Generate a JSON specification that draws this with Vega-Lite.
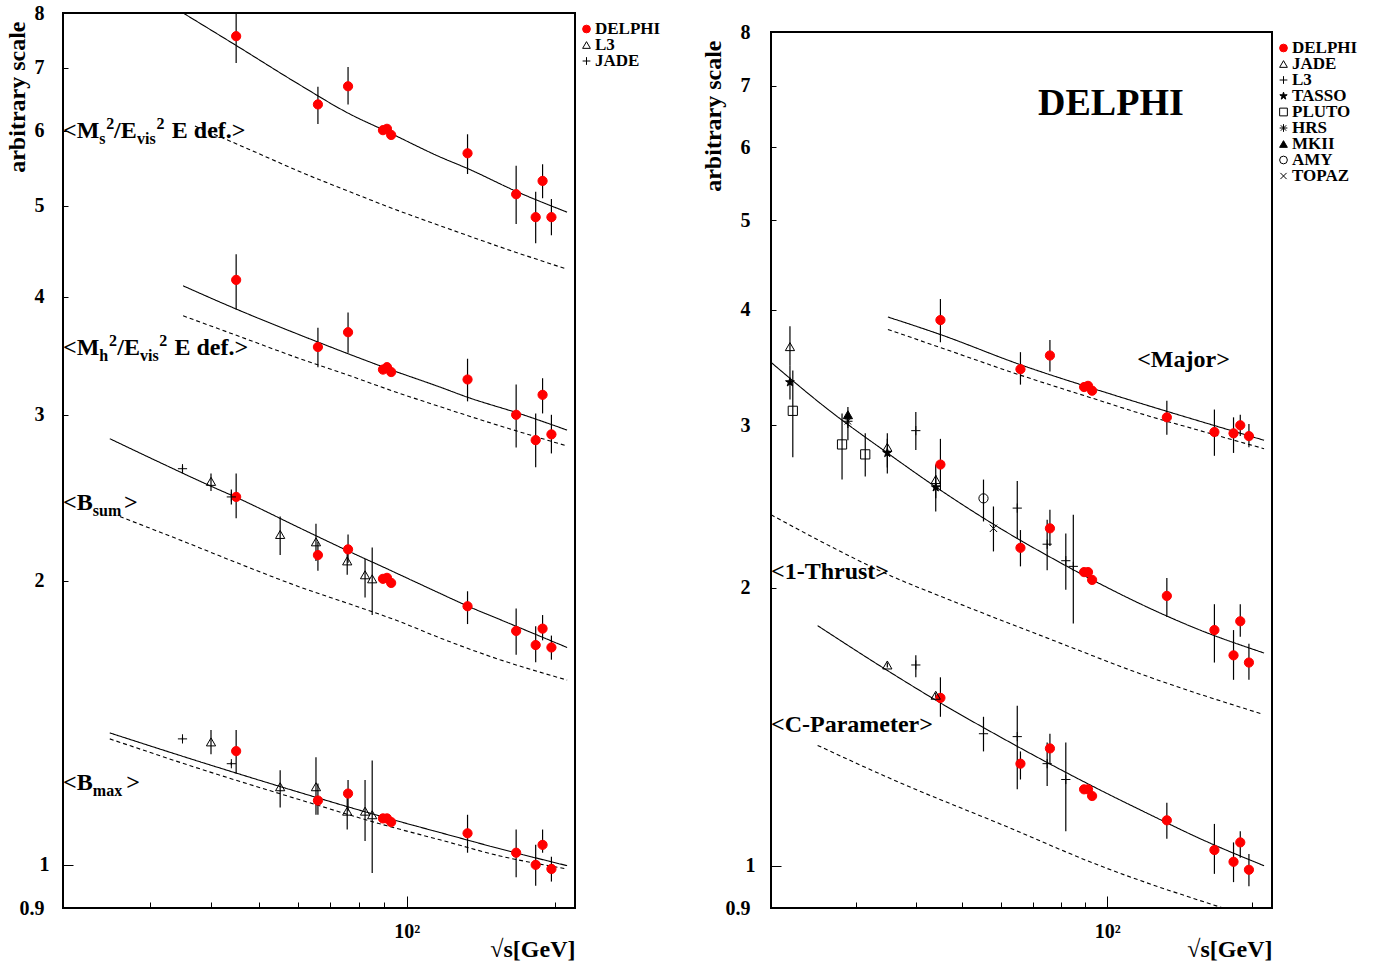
{
  "$schema": "https://vega.github.io/schema/vega-lite/v6.json",
  "background": "white",
  "padding": {"left": 3, "top": 2, "right": 0, "bottom": 0},
  "config": {
    "font": "Liberation Serif",
    "view": {"stroke": "black", "strokeWidth": 2},
    "axis": {"grid": false, "domain": false, "labelFont": "Liberation Serif", "labelFontWeight": "bold", "labelFontSize": 20, "labelColor": "black", "titleFont": "Liberation Serif", "titleFontWeight": "bold", "titleColor": "black", "tickColor": "black", "tickWidth": 1, "labelOverlap": false, "labelFlush": false},
    "legend": {"orient": "right", "offset": -5, "padding": 8, "labelFont": "Liberation Serif", "labelFontWeight": "bold", "labelFontSize": 17, "labelColor": "black", "symbolSize": 60, "symbolStrokeWidth": 1, "rowPadding": -3, "clipHeight": 16, "labelOffset": 0}
  },
  "spacing": 29,
  "resolve": {"scale": {"shape": "independent", "fill": "independent", "stroke": "independent", "strokeDash": "independent"}, "legend": {"shape": "independent", "fill": "independent", "stroke": "independent"}},
  "datasets": {
    "L_pts": [
      {"s":"Ms","exp":"DELPHI","x":45,"y":7.56,"lo":7.08,"hi":8.0},
      {"s":"Ms","exp":"DELPHI","x":66,"y":6.40,"lo":6.10,"hi":6.68},
      {"s":"Ms","exp":"DELPHI","x":76,"y":6.69,"lo":6.40,"hi":7.01},
      {"s":"Ms","exp":"DELPHI","x":89.5,"y":6.01,"lo":5.97,"hi":6.05},
      {"s":"Ms","exp":"DELPHI","x":91.2,"y":6.03,"lo":6.00,"hi":6.06},
      {"s":"Ms","exp":"DELPHI","x":93,"y":5.94,"lo":5.90,"hi":5.98},
      {"s":"Ms","exp":"DELPHI","x":133,"y":5.68,"lo":5.40,"hi":5.95},
      {"s":"Ms","exp":"DELPHI","x":167,"y":5.14,"lo":4.78,"hi":5.51},
      {"s":"Ms","exp":"DELPHI","x":183,"y":4.86,"lo":4.56,"hi":5.17},
      {"s":"Ms","exp":"DELPHI","x":189,"y":5.31,"lo":5.09,"hi":5.53},
      {"s":"Ms","exp":"DELPHI","x":197,"y":4.86,"lo":4.65,"hi":5.08},
      {"s":"Mh","exp":"DELPHI","x":45,"y":4.17,"lo":3.88,"hi":4.44},
      {"s":"Mh","exp":"DELPHI","x":66,"y":3.54,"lo":3.37,"hi":3.71},
      {"s":"Mh","exp":"DELPHI","x":76,"y":3.67,"lo":3.49,"hi":3.85},
      {"s":"Mh","exp":"DELPHI","x":89.5,"y":3.35,"lo":3.33,"hi":3.37},
      {"s":"Mh","exp":"DELPHI","x":91.2,"y":3.37,"lo":3.35,"hi":3.39},
      {"s":"Mh","exp":"DELPHI","x":93,"y":3.33,"lo":3.31,"hi":3.35},
      {"s":"Mh","exp":"DELPHI","x":133,"y":3.27,"lo":3.10,"hi":3.44},
      {"s":"Mh","exp":"DELPHI","x":167,"y":3.00,"lo":2.77,"hi":3.23},
      {"s":"Mh","exp":"DELPHI","x":183,"y":2.82,"lo":2.64,"hi":3.01},
      {"s":"Mh","exp":"DELPHI","x":189,"y":3.15,"lo":3.01,"hi":3.28},
      {"s":"Mh","exp":"DELPHI","x":197,"y":2.86,"lo":2.73,"hi":3.00},
      {"s":"Bsum","exp":"DELPHI","x":45,"y":2.455,"lo":2.33,"hi":2.60},
      {"s":"Bsum","exp":"DELPHI","x":66,"y":2.13,"lo":2.05,"hi":2.20},
      {"s":"Bsum","exp":"DELPHI","x":76,"y":2.16,"lo":2.09,"hi":2.24},
      {"s":"Bsum","exp":"DELPHI","x":89.5,"y":2.01,"lo":2.0,"hi":2.02},
      {"s":"Bsum","exp":"DELPHI","x":91.2,"y":2.015,"lo":2.005,"hi":2.025},
      {"s":"Bsum","exp":"DELPHI","x":93,"y":1.99,"lo":1.98,"hi":2.0},
      {"s":"Bsum","exp":"DELPHI","x":133,"y":1.88,"lo":1.80,"hi":1.95},
      {"s":"Bsum","exp":"DELPHI","x":167,"y":1.77,"lo":1.67,"hi":1.87},
      {"s":"Bsum","exp":"DELPHI","x":183,"y":1.71,"lo":1.64,"hi":1.79},
      {"s":"Bsum","exp":"DELPHI","x":189,"y":1.78,"lo":1.73,"hi":1.84},
      {"s":"Bsum","exp":"DELPHI","x":197,"y":1.70,"lo":1.65,"hi":1.75},
      {"s":"Bsum","exp":"L3","x":40,"y":2.55,"lo":2.49,"hi":2.60},
      {"s":"Bsum","exp":"L3","x":55.3,"y":2.24,"lo":2.13,"hi":2.34},
      {"s":"Bsum","exp":"L3","x":65.4,"y":2.20,"lo":2.10,"hi":2.30},
      {"s":"Bsum","exp":"L3","x":75.7,"y":2.10,"lo":2.03,"hi":2.16},
      {"s":"Bsum","exp":"L3","x":82.3,"y":2.03,"lo":1.92,"hi":2.11},
      {"s":"Bsum","exp":"L3","x":85.1,"y":2.01,"lo":1.84,"hi":2.17},
      {"s":"Bsum","exp":"JADE","x":35,"y":2.63,"lo":2.61,"hi":2.65},
      {"s":"Bsum","exp":"JADE","x":44,"y":2.455,"lo":2.41,"hi":2.50},
      {"s":"Bmax","exp":"DELPHI","x":45,"y":1.32,"lo":1.25,"hi":1.39},
      {"s":"Bmax","exp":"DELPHI","x":66,"y":1.17,"lo":1.13,"hi":1.22},
      {"s":"Bmax","exp":"DELPHI","x":76,"y":1.19,"lo":1.14,"hi":1.23},
      {"s":"Bmax","exp":"DELPHI","x":89.5,"y":1.12,"lo":1.115,"hi":1.125},
      {"s":"Bmax","exp":"DELPHI","x":91.2,"y":1.12,"lo":1.115,"hi":1.125},
      {"s":"Bmax","exp":"DELPHI","x":93,"y":1.11,"lo":1.105,"hi":1.115},
      {"s":"Bmax","exp":"DELPHI","x":133,"y":1.08,"lo":1.03,"hi":1.13},
      {"s":"Bmax","exp":"DELPHI","x":167,"y":1.03,"lo":0.97,"hi":1.09},
      {"s":"Bmax","exp":"DELPHI","x":183,"y":1.00,"lo":0.95,"hi":1.05},
      {"s":"Bmax","exp":"DELPHI","x":189,"y":1.05,"lo":1.03,"hi":1.09},
      {"s":"Bmax","exp":"DELPHI","x":197,"y":0.99,"lo":0.96,"hi":1.02},
      {"s":"Bmax","exp":"L3","x":40,"y":1.35,"lo":1.31,"hi":1.39},
      {"s":"Bmax","exp":"L3","x":55.3,"y":1.21,"lo":1.15,"hi":1.26},
      {"s":"Bmax","exp":"L3","x":65.4,"y":1.21,"lo":1.13,"hi":1.30},
      {"s":"Bmax","exp":"L3","x":75.7,"y":1.14,"lo":1.09,"hi":1.18},
      {"s":"Bmax","exp":"L3","x":82.3,"y":1.14,"lo":1.06,"hi":1.23},
      {"s":"Bmax","exp":"L3","x":85.1,"y":1.13,"lo":0.98,"hi":1.29},
      {"s":"Bmax","exp":"JADE","x":35,"y":1.36,"lo":1.355,"hi":1.365},
      {"s":"Bmax","exp":"JADE","x":44,"y":1.28,"lo":1.275,"hi":1.285}
    ],
    "L_lines": [
      {"s":"Ms","k":"fit","x":35.1,"y":8.0},{"s":"Ms","k":"fit","x":45.2,"y":7.38},{"s":"Ms","k":"fit","x":60.7,"y":6.71},{"s":"Ms","k":"fit","x":76.7,"y":6.25},{"s":"Ms","k":"fit","x":91.2,"y":5.99},{"s":"Ms","k":"fit","x":116.9,"y":5.63},{"s":"Ms","k":"fit","x":133.3,"y":5.47},{"s":"Ms","k":"fit","x":169.3,"y":5.16},{"s":"Ms","k":"fit","x":212,"y":4.92},
      {"s":"Msp","k":"pert","x":37.1,"y":6.07},{"s":"Msp","k":"pert","x":48.0,"y":5.73},{"s":"Msp","k":"pert","x":60.7,"y":5.43},{"s":"Msp","k":"pert","x":76.7,"y":5.17},{"s":"Msp","k":"pert","x":97.0,"y":4.93},{"s":"Msp","k":"pert","x":116.9,"y":4.76},{"s":"Msp","k":"pert","x":154.8,"y":4.52},{"s":"Msp","k":"pert","x":212,"y":4.28},
      {"s":"Mh","k":"fit","x":35.1,"y":4.11},{"s":"Mh","k":"fit","x":45.2,"y":3.88},{"s":"Mh","k":"fit","x":60.7,"y":3.645},{"s":"Mh","k":"fit","x":76.7,"y":3.476},{"s":"Mh","k":"fit","x":91.2,"y":3.36},{"s":"Mh","k":"fit","x":116.9,"y":3.21},{"s":"Mh","k":"fit","x":133.3,"y":3.13},{"s":"Mh","k":"fit","x":169.3,"y":3.01},{"s":"Mh","k":"fit","x":212,"y":2.89},
      {"s":"Mhp","k":"pert","x":35.1,"y":3.82},{"s":"Mhp","k":"pert","x":45.2,"y":3.64},{"s":"Mhp","k":"pert","x":60.7,"y":3.44},{"s":"Mhp","k":"pert","x":76.7,"y":3.30},{"s":"Mhp","k":"pert","x":91.2,"y":3.195},{"s":"Mhp","k":"pert","x":116.9,"y":3.06},{"s":"Mhp","k":"pert","x":154.8,"y":2.92},{"s":"Mhp","k":"pert","x":212,"y":2.78},
      {"s":"Bsum","k":"fit","x":24.9,"y":2.83},{"s":"Bsum","k":"fit","x":31.5,"y":2.67},{"s":"Bsum","k":"fit","x":40.0,"y":2.52},{"s":"Bsum","k":"fit","x":45.2,"y":2.45},{"s":"Bsum","k":"fit","x":60.7,"y":2.275},{"s":"Bsum","k":"fit","x":76.7,"y":2.147},{"s":"Bsum","k":"fit","x":91.2,"y":2.06},{"s":"Bsum","k":"fit","x":116.9,"y":1.94},{"s":"Bsum","k":"fit","x":133.3,"y":1.88},{"s":"Bsum","k":"fit","x":154.8,"y":1.82},{"s":"Bsum","k":"fit","x":212,"y":1.70},
      {"s":"Bsump","k":"pert","x":26.1,"y":2.34},{"s":"Bsump","k":"pert","x":34.6,"y":2.21},{"s":"Bsump","k":"pert","x":45.2,"y":2.09},{"s":"Bsump","k":"pert","x":60.7,"y":1.97},{"s":"Bsump","k":"pert","x":76.7,"y":1.89},{"s":"Bsump","k":"pert","x":97.0,"y":1.81},{"s":"Bsump","k":"pert","x":116.9,"y":1.74},{"s":"Bsump","k":"pert","x":154.8,"y":1.65},{"s":"Bsump","k":"pert","x":212,"y":1.57},
      {"s":"Bmax","k":"fit","x":24.9,"y":1.38},{"s":"Bmax","k":"fit","x":38.0,"y":1.286},{"s":"Bmax","k":"fit","x":60.7,"y":1.193},{"s":"Bmax","k":"fit","x":91.2,"y":1.121},{"s":"Bmax","k":"fit","x":116.9,"y":1.082},{"s":"Bmax","k":"fit","x":154.8,"y":1.04},{"s":"Bmax","k":"fit","x":212,"y":0.998},
      {"s":"Bmaxp","k":"pert","x":24.9,"y":1.36},{"s":"Bmaxp","k":"pert","x":38.0,"y":1.264},{"s":"Bmaxp","k":"pert","x":60.7,"y":1.172},{"s":"Bmaxp","k":"pert","x":91.2,"y":1.10},{"s":"Bmaxp","k":"pert","x":116.9,"y":1.063},{"s":"Bmaxp","k":"pert","x":154.8,"y":1.022},{"s":"Bmaxp","k":"pert","x":212,"y":0.99}
    ],
    "L_txt": [
      {"r":"main","x":20,"y":6.0,"t":"<M"},{"r":"sub","x":23.7,"y":6.0,"t":"s"},{"r":"sup","x":24.5,"y":6.0,"t":"2"},{"r":"main","x":25.4,"y":6.0,"t":"/E"},{"r":"sub","x":28.3,"y":6.0,"t":"vis"},{"r":"sup","x":31.0,"y":6.0,"t":"2"},{"r":"main","x":33.3,"y":6.0,"t":"E def.>"},
      {"r":"main","x":20,"y":3.53,"t":"<M"},{"r":"sub","x":23.7,"y":3.53,"t":"h"},{"r":"sup","x":24.8,"y":3.53,"t":"2"},{"r":"main","x":25.8,"y":3.53,"t":"/E"},{"r":"sub","x":28.7,"y":3.53,"t":"vis"},{"r":"sup","x":31.4,"y":3.53,"t":"2"},{"r":"main","x":33.7,"y":3.53,"t":"E def.>"},
      {"r":"main","x":20,"y":2.42,"t":"<B"},{"r":"sub","x":23.0,"y":2.42,"t":"sum"},{"r":"main","x":26.6,"y":2.42,"t":">"},
      {"r":"main","x":20,"y":1.22,"t":"<B"},{"r":"sub","x":23.0,"y":1.22,"t":"max"},{"r":"main","x":26.9,"y":1.22,"t":">"}
    ],
    "R_pts": [
      {"s":"Major","exp":"DELPHI","x":45,"y":3.90,"lo":3.69,"hi":4.11},
      {"s":"Major","exp":"DELPHI","x":66,"y":3.45,"lo":3.32,"hi":3.60},
      {"s":"Major","exp":"DELPHI","x":76,"y":3.57,"lo":3.43,"hi":3.71},
      {"s":"Major","exp":"DELPHI","x":89.5,"y":3.30,"lo":3.29,"hi":3.31},
      {"s":"Major","exp":"DELPHI","x":91.2,"y":3.31,"lo":3.30,"hi":3.32},
      {"s":"Major","exp":"DELPHI","x":93,"y":3.27,"lo":3.26,"hi":3.28},
      {"s":"Major","exp":"DELPHI","x":133,"y":3.06,"lo":2.93,"hi":3.19},
      {"s":"Major","exp":"DELPHI","x":167,"y":2.95,"lo":2.78,"hi":3.12},
      {"s":"Major","exp":"DELPHI","x":183,"y":2.94,"lo":2.80,"hi":3.06},
      {"s":"Major","exp":"DELPHI","x":189,"y":3.00,"lo":2.92,"hi":3.08},
      {"s":"Major","exp":"DELPHI","x":197,"y":2.92,"lo":2.84,"hi":3.01},
      {"s":"Thrust","exp":"DELPHI","x":45,"y":2.72,"lo":2.55,"hi":2.90},
      {"s":"Thrust","exp":"DELPHI","x":66,"y":2.21,"lo":2.11,"hi":2.31},
      {"s":"Thrust","exp":"DELPHI","x":76,"y":2.32,"lo":2.22,"hi":2.43},
      {"s":"Thrust","exp":"DELPHI","x":89.5,"y":2.08,"lo":2.07,"hi":2.09},
      {"s":"Thrust","exp":"DELPHI","x":91.2,"y":2.08,"lo":2.07,"hi":2.09},
      {"s":"Thrust","exp":"DELPHI","x":93,"y":2.04,"lo":2.03,"hi":2.05},
      {"s":"Thrust","exp":"DELPHI","x":133,"y":1.96,"lo":1.86,"hi":2.05},
      {"s":"Thrust","exp":"DELPHI","x":167,"y":1.80,"lo":1.66,"hi":1.92},
      {"s":"Thrust","exp":"DELPHI","x":183,"y":1.69,"lo":1.59,"hi":1.80},
      {"s":"Thrust","exp":"DELPHI","x":189,"y":1.84,"lo":1.77,"hi":1.92},
      {"s":"Thrust","exp":"DELPHI","x":197,"y":1.66,"lo":1.59,"hi":1.74},
      {"s":"Thrust","exp":"JADE","x":21.9,"y":3.65,"lo":3.48,"hi":3.84},
      {"s":"Thrust","exp":"JADE","x":34.9,"y":2.84,"lo":2.66,"hi":2.94},
      {"s":"Thrust","exp":"JADE","x":44,"y":2.62,"lo":2.42,"hi":2.72},
      {"s":"Thrust","exp":"TASSO","x":21.9,"y":3.34,"lo":3.20,"hi":3.48},
      {"s":"Thrust","exp":"TASSO","x":34.9,"y":2.80,"lo":2.70,"hi":2.90},
      {"s":"Thrust","exp":"TASSO","x":44,"y":2.57,"lo":2.50,"hi":2.65},
      {"s":"Thrust","exp":"PLUTO","x":22.2,"y":3.11,"lo":2.77,"hi":3.44},
      {"s":"Thrust","exp":"PLUTO","x":28.1,"y":2.86,"lo":2.62,"hi":3.09},
      {"s":"Thrust","exp":"PLUTO","x":31.4,"y":2.79,"lo":2.64,"hi":2.94},
      {"s":"Thrust","exp":"HRS","x":28.9,"y":3.03,"lo":2.89,"hi":3.09},
      {"s":"Thrust","exp":"MKII","x":28.9,"y":3.08,"lo":2.98,"hi":3.14},
      {"s":"Thrust","exp":"AMY","x":55.3,"y":2.50,"lo":2.36,"hi":2.62},
      {"s":"Thrust","exp":"TOPAZ","x":58,"y":2.32,"lo":2.19,"hi":2.45},
      {"s":"Thrust","exp":"L3","x":40,"y":2.96,"lo":2.82,"hi":3.10},
      {"s":"Thrust","exp":"L3","x":65,"y":2.44,"lo":2.26,"hi":2.61},
      {"s":"Thrust","exp":"L3","x":75,"y":2.23,"lo":2.09,"hi":2.37},
      {"s":"Thrust","exp":"L3","x":82,"y":2.14,"lo":1.99,"hi":2.29},
      {"s":"Thrust","exp":"L3","x":85,"y":2.11,"lo":1.83,"hi":2.40},
      {"s":"C","exp":"DELPHI","x":45,"y":1.52,"lo":1.45,"hi":1.60},
      {"s":"C","exp":"DELPHI","x":66,"y":1.29,"lo":1.24,"hi":1.33},
      {"s":"C","exp":"DELPHI","x":76,"y":1.34,"lo":1.29,"hi":1.39},
      {"s":"C","exp":"DELPHI","x":89.5,"y":1.21,"lo":1.205,"hi":1.215},
      {"s":"C","exp":"DELPHI","x":91.2,"y":1.21,"lo":1.205,"hi":1.215},
      {"s":"C","exp":"DELPHI","x":93,"y":1.19,"lo":1.185,"hi":1.195},
      {"s":"C","exp":"DELPHI","x":133,"y":1.12,"lo":1.07,"hi":1.17},
      {"s":"C","exp":"DELPHI","x":167,"y":1.04,"lo":0.98,"hi":1.11},
      {"s":"C","exp":"DELPHI","x":183,"y":1.01,"lo":0.96,"hi":1.06},
      {"s":"C","exp":"DELPHI","x":189,"y":1.06,"lo":1.02,"hi":1.09},
      {"s":"C","exp":"DELPHI","x":197,"y":0.99,"lo":0.95,"hi":1.03},
      {"s":"C","exp":"JADE","x":34.9,"y":1.65,"lo":1.64,"hi":1.66},
      {"s":"C","exp":"JADE","x":44,"y":1.53,"lo":1.52,"hi":1.54},
      {"s":"C","exp":"L3","x":40,"y":1.65,"lo":1.60,"hi":1.69},
      {"s":"C","exp":"L3","x":55.3,"y":1.39,"lo":1.33,"hi":1.45},
      {"s":"C","exp":"L3","x":65,"y":1.38,"lo":1.21,"hi":1.49},
      {"s":"C","exp":"L3","x":75,"y":1.29,"lo":1.22,"hi":1.36},
      {"s":"C","exp":"L3","x":82,"y":1.24,"lo":1.09,"hi":1.36}
    ],
    "R_lines": [
      {"s":"Major","k":"fit","x":35.0,"y":3.93},{"s":"Major","k":"fit","x":45.1,"y":3.76},{"s":"Major","k":"fit","x":65.9,"y":3.49},{"s":"Major","k":"fit","x":96.6,"y":3.27},{"s":"Major","k":"fit","x":117,"y":3.17},{"s":"Major","k":"fit","x":155.9,"y":3.03},{"s":"Major","k":"fit","x":211.8,"y":2.89},
      {"s":"Majorp","k":"pert","x":35.0,"y":3.81},{"s":"Majorp","k":"pert","x":45.1,"y":3.64},{"s":"Majorp","k":"pert","x":65.9,"y":3.40},{"s":"Majorp","k":"pert","x":96.6,"y":3.19},{"s":"Majorp","k":"pert","x":117,"y":3.09},{"s":"Majorp","k":"pert","x":155.9,"y":2.96},{"s":"Majorp","k":"pert","x":211.8,"y":2.83},
      {"s":"Thrust","k":"fit","x":20,"y":3.51},{"s":"Thrust","k":"fit","x":26.5,"y":3.11},{"s":"Thrust","k":"fit","x":34.9,"y":2.80},{"s":"Thrust","k":"fit","x":45.1,"y":2.55},{"s":"Thrust","k":"fit","x":59.9,"y":2.32},{"s":"Thrust","k":"fit","x":76.0,"y":2.16},{"s":"Thrust","k":"fit","x":96.6,"y":2.02},{"s":"Thrust","k":"fit","x":122.7,"y":1.90},{"s":"Thrust","k":"fit","x":155.9,"y":1.80},{"s":"Thrust","k":"fit","x":211.8,"y":1.70},
      {"s":"Thrustp","k":"pert","x":20,"y":2.40},{"s":"Thrustp","k":"pert","x":26.5,"y":2.22},{"s":"Thrustp","k":"pert","x":34.8,"y":2.07},{"s":"Thrustp","k":"pert","x":47.1,"y":1.94},{"s":"Thrustp","k":"pert","x":76.0,"y":1.76},{"s":"Thrustp","k":"pert","x":122.7,"y":1.60},{"s":"Thrustp","k":"pert","x":209.8,"y":1.46},
      {"s":"C","k":"fit","x":25.0,"y":1.82},{"s":"C","k":"fit","x":34.8,"y":1.629},{"s":"C","k":"fit","x":45.1,"y":1.50},{"s":"C","k":"fit","x":59.9,"y":1.379},{"s":"C","k":"fit","x":76.0,"y":1.289},{"s":"C","k":"fit","x":96.6,"y":1.208},{"s":"C","k":"fit","x":122.7,"y":1.136},{"s":"C","k":"fit","x":155.9,"y":1.07},{"s":"C","k":"fit","x":211.8,"y":1.00},
      {"s":"Cp","k":"pert","x":25.0,"y":1.35},{"s":"Cp","k":"pert","x":37.1,"y":1.23},{"s":"Cp","k":"pert","x":59.9,"y":1.11},{"s":"Cp","k":"pert","x":96.6,"y":1.0},{"s":"Cp","k":"pert","x":174,"y":0.9}
    ],
    "R_txt": [
      {"r":"main","x":115.4,"y":3.53,"t":"<Major>"},
      {"r":"main","x":20,"y":2.08,"t":"<1-Thrust>"},
      {"r":"main","x":20,"y":1.42,"t":"<C-Parameter>"},
      {"r":"big","x":71.8,"y":6.68,"t":"DELPHI"}
    ]
  },
  "hconcat": [
    {
      "width": 512,
      "height": 895,
      "encoding": {
        "x": {"field": "x", "type": "quantitative", "scale": {"type": "log", "domain": [20, 220], "nice": false},
          "axis": {"values": [20,30,40,50,60,70,80,90,100,200], "labelExpr": "datum.value == 100 ? '10²' : ''", "tickSize": {"condition": {"test": "datum.value == 100", "value": -12}, "value": -6}, "labelPadding": 25, "title": "√s[GeV]", "titleAnchor": "end", "titleFontSize": 24, "titlePadding": -10}},
        "y": {"field": "y", "type": "quantitative", "scale": {"type": "log", "domain": [0.9, 8], "nice": false},
          "axis": {"values": [0.9,1,2,3,4,5,6,7,8], "format": "~g", "tickSize": {"condition": {"test": "datum.value == 1", "value": -10}, "value": -5}, "labelPadding": 24, "title": "arbitrary scale", "titleAnchor": "end", "titleFontSize": 24, "titlePadding": -10, "titleY": 8}}
      },
      "layer": [
        {"data": {"name": "L_lines"}, "mark": {"type": "line", "clip": true, "color": "black", "strokeWidth": 1.1, "interpolate": "monotone"},
          "encoding": {"detail": {"field": "s"}, "strokeDash": {"field": "k", "type": "nominal", "scale": {"domain": ["fit", "pert"], "range": [[1, 0], [4, 3]]}, "legend": null}}},
        {"data": {"name": "L_pts"}, "mark": {"type": "rule", "clip": true, "color": "black", "strokeWidth": 1.2},
          "encoding": {"y": {"field": "lo", "type": "quantitative", "scale": {"type": "log", "domain": [0.9, 8], "nice": false}}, "y2": {"field": "hi"}}},
        {"data": {"name": "L_pts"}, "mark": {"type": "point", "size": 85, "strokeWidth": 1, "opacity": 1, "fillOpacity": 1},
          "encoding": {
            "shape": {"field": "exp", "type": "nominal", "scale": {"domain": ["DELPHI", "L3", "JADE"], "range": ["circle", "triangle-up", "M-1,0L1,0M0,-1L0,1"]}, "legend": {"title": null}},
            "fill": {"field": "exp", "type": "nominal", "scale": {"domain": ["DELPHI", "L3", "JADE"], "range": ["#ff0000", "transparent", "transparent"]}, "legend": {"title": null}},
            "stroke": {"field": "exp", "type": "nominal", "scale": {"domain": ["DELPHI", "L3", "JADE"], "range": ["#ff0000", "black", "black"]}, "legend": {"title": null}}
          }},
        {"data": {"name": "L_txt"}, "transform": [{"filter": "datum.r == 'main'"}], "mark": {"type": "text", "align": "left", "baseline": "middle", "fontSize": 24, "fontWeight": "bold", "color": "black"}, "encoding": {"text": {"field": "t"}}},
        {"data": {"name": "L_txt"}, "transform": [{"filter": "datum.r == 'sub'"}], "mark": {"type": "text", "align": "left", "baseline": "middle", "fontSize": 16, "fontWeight": "bold", "dy": 8, "color": "black"}, "encoding": {"text": {"field": "t"}}},
        {"data": {"name": "L_txt"}, "transform": [{"filter": "datum.r == 'sup'"}], "mark": {"type": "text", "align": "left", "baseline": "middle", "fontSize": 16, "fontWeight": "bold", "dy": -7, "color": "black"}, "encoding": {"text": {"field": "t"}}}
      ]
    },
    {
      "spacing": 2,
      "resolve": {"scale": {"shape": "independent", "fill": "independent", "stroke": "independent", "strokeDash": "independent"}, "legend": {"shape": "independent", "fill": "independent", "stroke": "independent"}},
      "vconcat": [
        {
          "width": 501,
          "height": 1,
          "view": {"stroke": null},
          "data": {"values": [{"t": ""}]},
          "mark": {"type": "text"},
          "encoding": {"text": {"field": "t"}}
        },
        {
          "width": 501,
          "height": 876,
          "encoding": {
            "x": {"field": "x", "type": "quantitative", "scale": {"type": "log", "domain": [20, 220], "nice": false},
              "axis": {"values": [20,30,40,50,60,70,80,90,100,200], "labelExpr": "datum.value == 100 ? '10²' : ''", "tickSize": {"condition": {"test": "datum.value == 100", "value": -12}, "value": -6}, "labelPadding": 25, "title": "√s[GeV]", "titleAnchor": "end", "titleFontSize": 24, "titlePadding": -10}},
            "y": {"field": "y", "type": "quantitative", "scale": {"type": "log", "domain": [0.9, 8], "nice": false},
              "axis": {"values": [0.9,1,2,3,4,5,6,7,8], "format": "~g", "tickSize": {"condition": {"test": "datum.value == 1", "value": -10}, "value": -5}, "labelPadding": 26, "title": "arbitrary scale", "titleAnchor": "end", "titleFontSize": 24, "titlePadding": 0, "titleY": 8}}
          },
          "layer": [
            {"data": {"name": "R_lines"}, "mark": {"type": "line", "clip": true, "color": "black", "strokeWidth": 1.1, "interpolate": "monotone"},
              "encoding": {"detail": {"field": "s"}, "strokeDash": {"field": "k", "type": "nominal", "scale": {"domain": ["fit", "pert"], "range": [[1, 0], [4, 3]]}, "legend": null}}},
            {"data": {"name": "R_pts"}, "mark": {"type": "rule", "clip": true, "color": "black", "strokeWidth": 1.2},
              "encoding": {"y": {"field": "lo", "type": "quantitative", "scale": {"type": "log", "domain": [0.9, 8], "nice": false}}, "y2": {"field": "hi"}}},
            {"data": {"name": "R_pts"}, "mark": {"type": "point", "size": 85, "strokeWidth": 1, "opacity": 1, "fillOpacity": 1},
              "encoding": {
                "shape": {"field": "exp", "type": "nominal", "scale": {"domain": ["DELPHI", "JADE", "L3", "TASSO", "PLUTO", "HRS", "MKII", "AMY", "TOPAZ"], "range": ["circle", "triangle-up", "M-1,0L1,0M0,-1L0,1", "M0,-1L0.223,-0.307L0.951,-0.309L0.361,0.117L0.588,0.809L0,0.38L-0.588,0.809L-0.361,0.117L-0.951,-0.309L-0.223,-0.307Z", "square", "M-1,0L1,0M0,-1L0,1M-0.7,-0.7L0.7,0.7M-0.7,0.7L0.7,-0.7", "triangle-up", "circle", "M-0.8,-0.8L0.8,0.8M-0.8,0.8L0.8,-0.8"]}, "legend": {"title": null}},
                "fill": {"field": "exp", "type": "nominal", "scale": {"domain": ["DELPHI", "JADE", "L3", "TASSO", "PLUTO", "HRS", "MKII", "AMY", "TOPAZ"], "range": ["#ff0000", "transparent", "transparent", "black", "transparent", "transparent", "black", "transparent", "transparent"]}, "legend": {"title": null}},
                "stroke": {"field": "exp", "type": "nominal", "scale": {"domain": ["DELPHI", "JADE", "L3", "TASSO", "PLUTO", "HRS", "MKII", "AMY", "TOPAZ"], "range": ["#ff0000", "black", "black", "black", "black", "black", "black", "black", "black"]}, "legend": {"title": null}}
              }},
            {"data": {"name": "R_txt"}, "transform": [{"filter": "datum.r == 'main'"}], "mark": {"type": "text", "align": "left", "baseline": "middle", "fontSize": 24, "fontWeight": "bold", "color": "black"}, "encoding": {"text": {"field": "t"}}},
            {"data": {"name": "R_txt"}, "transform": [{"filter": "datum.r == 'big'"}], "mark": {"type": "text", "align": "left", "baseline": "middle", "fontSize": 38, "fontWeight": "bold", "color": "black"}, "encoding": {"text": {"field": "t"}}}
          ]
        }
      ]
    }
  ]
}
